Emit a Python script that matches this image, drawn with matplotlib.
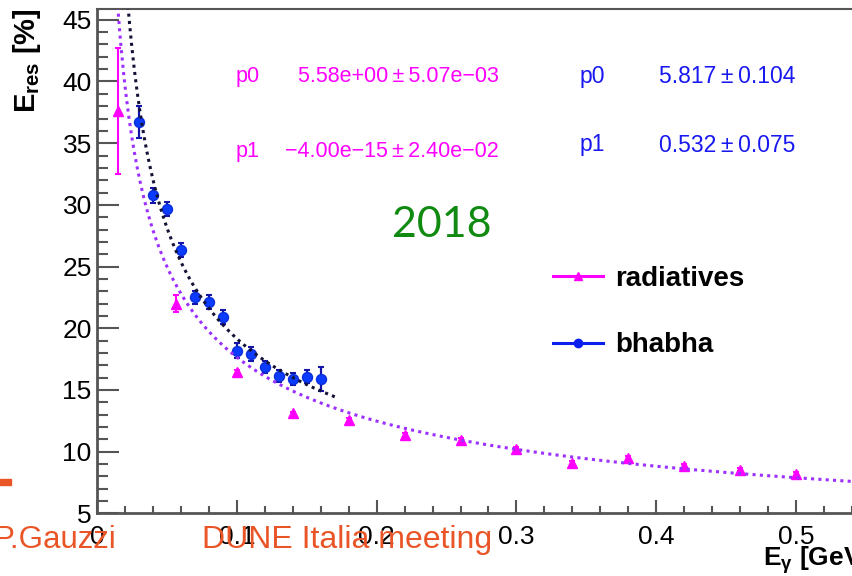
import numpy as np
import matplotlib
matplotlib.use("Agg")
import matplotlib.pyplot as plt
from matplotlib.lines import Line2D
from matplotlib.patches import Rectangle

plt.rcParams['font.family'] = ['Liberation Sans', 'DejaVu Sans']
plt.rcParams['mathtext.fontset'] = 'custom'
plt.rcParams['mathtext.rm'] = 'Liberation Sans'
plt.rcParams['mathtext.it'] = 'Liberation Sans:italic'
plt.rcParams['mathtext.bf'] = 'Liberation Sans:bold'

# ---- data -------------------------------------------------------------
# radiative Bhabha photons
rad_energy = [0.015, 0.056, 0.10, 0.14, 0.18, 0.22, 0.26, 0.30, 0.34, 0.38, 0.42, 0.46, 0.50]
rad_res = [37.6, 22.0, 16.45, 13.1, 12.55, 11.35, 10.95, 10.25, 9.1, 9.5, 8.85, 8.55, 8.17]
rad_err = [5.1, 0.7, 0.15, 0.15, 0.15, 0.15, 0.15, 0.15, 0.15, 0.15, 0.15, 0.15, 0.15]

# Bhabha electrons
bha_energy = [0.03, 0.04, 0.05, 0.06, 0.07, 0.08, 0.09, 0.10, 0.11, 0.12, 0.13, 0.14, 0.15, 0.16]
bha_res = [36.74, 30.78, 29.69, 26.35, 22.51, 22.13, 20.92, 18.19, 17.92, 16.84, 16.13, 15.87, 16.08, 15.89]
bha_err = [1.3, 0.6, 0.55, 0.55, 0.55, 0.55, 0.6, 0.6, 0.55, 0.5, 0.5, 0.5, 0.5, 1.0]

# fit results: sigma/E = p0/sqrt(E) (+) p1/E
rad_p0, rad_p0_err = 5.58, 5.07e-03
rad_p1, rad_p1_err = -4.00e-15, 2.40e-02
bha_p0, bha_p0_err = 5.817, 0.104
bha_p1, bha_p1_err = 0.532, 0.075

rad_fit_range = (0.010, 0.60)
bha_fit_range = (0.020, 0.172)

x_ticks = [0, 0.1, 0.2, 0.3, 0.4, 0.5]
x_tick_labels = ["0", "0.1", "0.2", "0.3", "0.4", "0.5"]
y_ticks = [5, 10, 15, 20, 25, 30, 35, 40, 45]


def resolution(e, p0, p1):
    e = np.asarray(e)
    return np.sqrt((p0 / np.sqrt(e)) ** 2 + (p1 / e) ** 2)


# ---- figure -----------------------------------------------------------
W, H = 852, 576
fig = plt.figure(figsize=(W / 100, H / 100), dpi=100)


def fx(px):
    return px / W


def fy(py):
    return 1 - py / H


ax_left, ax_bottom, ax_top = 97.3, 513.4, 9.3
px_per_unit = 1397.0
x_max = 0.56
ax = fig.add_axes([fx(ax_left), fy(ax_bottom), x_max * px_per_unit / W,
                   (ax_bottom - ax_top) / H])
ax.set_xlim(0, x_max)
ax.set_ylim(5, 45.85)

MAGENTA = '#ff00ff'
VIOLET = '#9b30ff'
BLUE = '#0b3bff'
DARKBLUE = '#1414a8'
NAVY = '#121236'
AXIS = '#555555'
PBLUE = '#1818f0'

# data points
ax.errorbar(rad_energy, rad_res, yerr=rad_err, fmt='^', color=MAGENTA,
            ms=7, mec=MAGENTA, capsize=2.4, elinewidth=1.5, capthick=1.5,
            zorder=3)
ax.errorbar(bha_energy, bha_res, yerr=bha_err, fmt='o', mfc=BLUE, mec='#0a2fd8',
            ms=7.2, ecolor=DARKBLUE, capsize=2.4, elinewidth=1.6, capthick=1.5,
            zorder=3)

# fit curves
e_rad = np.linspace(*rad_fit_range, 600)
ax.plot(e_rad, resolution(e_rad, rad_p0, rad_p1), color=VIOLET, lw=2.2,
        ls=(0, (1, 1.4)), dash_capstyle='butt', zorder=4)
e_bha = np.linspace(*bha_fit_range, 400)
ax.plot(e_bha, resolution(e_bha, bha_p0, bha_p1), color=NAVY, lw=2.2,
        ls=(0, (1, 1.4)), dash_capstyle='butt', zorder=4)

# axes styling
for side in ('left', 'bottom', 'top', 'right'):
    ax.spines[side].set_color(AXIS)
    ax.spines[side].set_linewidth(2.0)
ax.spines['top'].set_linewidth(1.5)

ax.set_xticks(x_ticks)
ax.set_xticklabels(x_tick_labels)
ax.set_xticks(np.arange(0, x_max, 0.02), minor=True)
ax.set_yticks(y_ticks)
ax.set_yticks(np.arange(5, 46, 1), minor=True)
ax.tick_params(axis='both', which='both', direction='in', color=AXIS, width=1.5,
               top=False, right=False)
ax.tick_params(axis='y', which='major', length=15.8, labelsize=19, pad=4)
ax.tick_params(axis='y', which='minor', length=7.9)
ax.tick_params(axis='x', which='major', length=9.2, labelsize=19, pad=8)
ax.tick_params(axis='x', which='minor', length=4.8)

# axis titles
fig.text(fx(27), fy(8), r'$\mathbf{E_{res}}$ [%]', rotation=90, ha='center',
         va='top', fontsize=21, fontweight='bold')
fig.text(fx(763), fy(566), r'$\mathbf{E_{\gamma}}$ [GeV]', ha='left',
         va='baseline', fontsize=19, fontweight='bold')

# fit parameter boxes
fig.text(fx(236), fy(76.5), 'p0', color=MAGENTA, fontsize=15.5, va='center')
fig.text(fx(498.5), fy(76.5), f'5.58e+00\u2009\u00b1\u20095.07e\u221203',
         color=MAGENTA, fontsize=15.5, va='center', ha='right')
fig.text(fx(236), fy(151.5), 'p1', color=MAGENTA, fontsize=15.5, va='center')
fig.text(fx(498.5), fy(151.5), '\u22124.00e\u221215\u2009\u00b1\u20092.40e\u221202',
         color=MAGENTA, fontsize=15.5, va='center', ha='right')

fig.text(fx(580), fy(76.5), 'p0', color=PBLUE, fontsize=16.5, va='center')
fig.text(fx(659), fy(76.5), f'{bha_p0:.3f}\u2009\u00b1\u2009{bha_p0_err:.3f}',
         color=PBLUE, fontsize=16.5, va='center')
fig.text(fx(580), fy(145), 'p1', color=PBLUE, fontsize=16.5, va='center')
fig.text(fx(659), fy(145), f'{bha_p1:.3f}\u2009\u00b1\u2009{bha_p1_err:.3f}',
         color=PBLUE, fontsize=16.5, va='center')

# legend
handles = [
    Line2D([], [], color=MAGENTA, lw=2.2, marker='^', ms=5.5),
    Line2D([], [], color='#0a1ef0', lw=2.2, marker='o', ms=6),
]
ax.legend(handles, ['radiatives', 'bhabha'], loc='upper left',
          bbox_to_anchor=(fx(553), fy(266)), bbox_transform=fig.transFigure,
          frameon=False, prop={'weight': 'bold', 'size': 20},
          handlelength=1.8, handletextpad=0.45, labelspacing=1.45,
          borderpad=0, borderaxespad=0)

# year tag
fig.text(fx(442), fy(225), '2018', color='#108a10', fontsize=31,
         family='Lato', ha='center', va='center')

# footer
ORANGE = '#ea5527'
fig.text(fx(116), fy(548.3), 'P.Gauzzi', color=ORANGE, fontsize=22.5,
         ha='right', va='baseline', zorder=10)
fig.text(fx(202), fy(548.3), 'DUNE Italia meeting', color=ORANGE, fontsize=23,
         ha='left', va='baseline', zorder=10)
fig.patches.append(Rectangle((0, fy(485)), fx(11), 6 / H, color=ORANGE,
                             transform=fig.transFigure, figure=fig))

fig.savefig('out.png', dpi=100)
